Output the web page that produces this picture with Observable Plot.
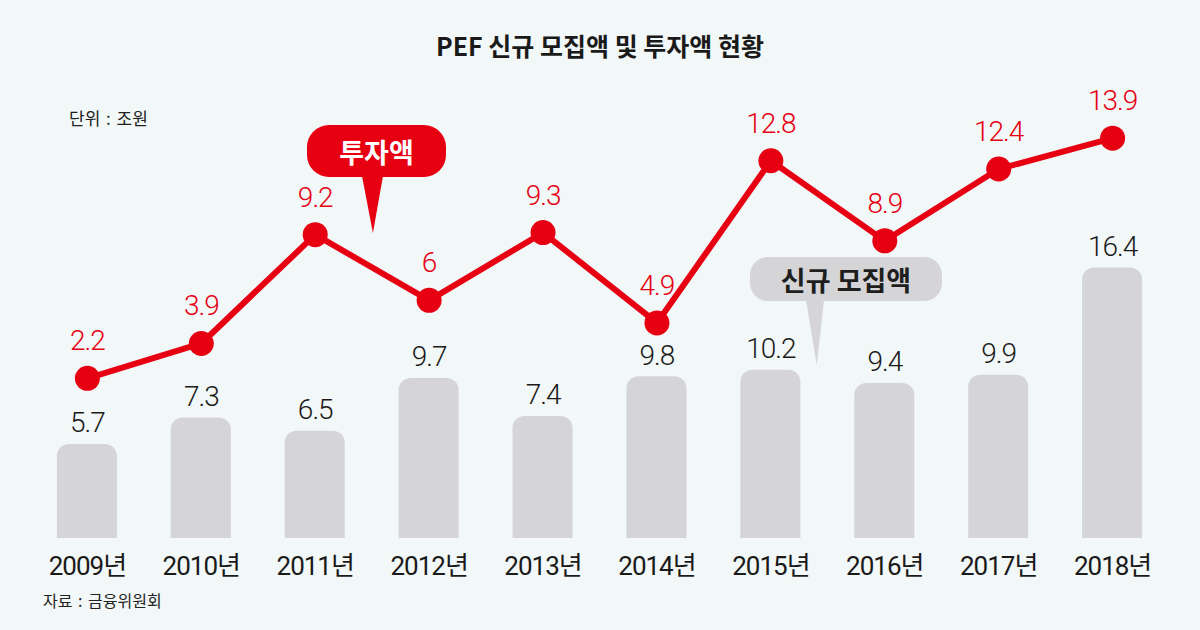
<!DOCTYPE html>
<html><head><meta charset="utf-8">
<script src="https://cdn.jsdelivr.net/npm/d3@7"></script>
<script src="https://cdn.jsdelivr.net/npm/@observablehq/plot@0.6"></script>
<style>
body{margin:0;background:#f2f7f7;}
#wrap{position:relative;width:1200px;height:630px;background:#f2f7f7;overflow:hidden;font-family:"Noto Sans CJK KR","Noto Sans",sans-serif;}
.title{position:absolute;top:30px;left:0;width:1200px;text-align:center;font-size:25px;line-height:30px;font-weight:700;color:#1a1a1a;}
.unit{position:absolute;left:69px;top:108px;font-size:17px;line-height:20px;color:#222;word-spacing:2px;}
.source{position:absolute;left:43px;top:590px;font-size:16px;line-height:20px;color:#222;word-spacing:2px;}
.chart{position:absolute;left:0;top:80px;}
.chart svg text{font-family:Roboto,"Noto Sans CJK KR",sans-serif;letter-spacing:-1px;}
.box{position:absolute;display:flex;align-items:center;justify-content:center;font-weight:700;}
.ptr{position:absolute;}
</style></head>
<body><div id="wrap">
<div class="title">PEF 신규 모집액 및 투자액 현황</div>
<div class="unit">단위 : 조원</div>
<div class="chart" id="c1"></div>
<div class="chart" id="c2"></div>
<div class="box" style="left:307px;top:125px;width:139px;height:52px;border-radius:22px;background:#e60012;color:#fff;font-size:27px;">투자액</div>
<div class="ptr" style="left:362px;top:176px;width:21px;height:57px;background:#e60012;clip-path:polygon(0 0,100% 0,52% 100%);"></div>
<div class="box" style="left:750px;top:257px;width:192px;height:44px;border-radius:18px;background:#d5d5d7;color:#1e1e1e;font-size:27px;">신규 모집액</div>
<div class="ptr" style="left:806px;top:300px;width:18px;height:65px;background:#d5d5d7;clip-path:polygon(0 0,100% 0,60% 100%);"></div>
<div class="source">자료 : 금융위원회</div>
</div>
<script>
const years = ["2009","2010","2011","2012","2013","2014","2015","2016","2017","2018"];
const raised = [5.7, 7.3, 6.5, 9.7, 7.4, 9.8, 10.2, 9.4, 9.9, 16.4];
const invested = [2.2, 3.9, 9.2, 6, 9.3, 4.9, 12.8, 8.9, 12.4, 13.9];
const yearSuffix = "년";

const data = years.map((y, i) => ({year: y, raised: raised[i], invested: invested[i]}));

const common = {
  width: 1200, height: 500,
  marginTop: 0, marginBottom: 42, marginLeft: 3, marginRight: 4,
  style: {background: "transparent", overflow: "visible"}
};
const xScale = {type: "band", domain: years, padding: 0.473, round: false};

const barsPlot = Plot.plot({
  ...common,
  x: {...xScale, axis: null},
  y: {domain: [0, 27.76], axis: null},
  marks: [
    Plot.barY(data, {x: "year", y1: () => -1.5, y2: "raised", fill: "#d5d5d7", rx: 12, ry: 12, clip: true}),
    Plot.text(data, {x: "year", y: "raised", text: d => String(d.raised), dy: -21, fill: "#1a1a1a", fontSize: 28, fontWeight: 300}),
    Plot.axisX({tickSize: 0, tickPadding: 18, fontSize: 26, fill: "#1a1a1a", tickFormat: d => d + yearSuffix, label: null})
  ]
});

const linePlot = Plot.plot({
  ...common,
  x: {...xScale, axis: null},
  y: {domain: [-5.6, 16.71], axis: null},
  marks: [
    Plot.line(data, {x: "year", y: "invested", stroke: "#e60012", strokeWidth: 6}),
    Plot.dot(data, {x: "year", y: "invested", r: 12.5, fill: "#e60012"}),
    Plot.text(data, {x: "year", y: "invested", text: d => String(d.invested), dy: -37, fill: "#e60012", fontSize: 28, fontWeight: 300})
  ]
});

document.getElementById("c1").appendChild(barsPlot);
document.getElementById("c2").appendChild(linePlot);
</script>
</body></html>
